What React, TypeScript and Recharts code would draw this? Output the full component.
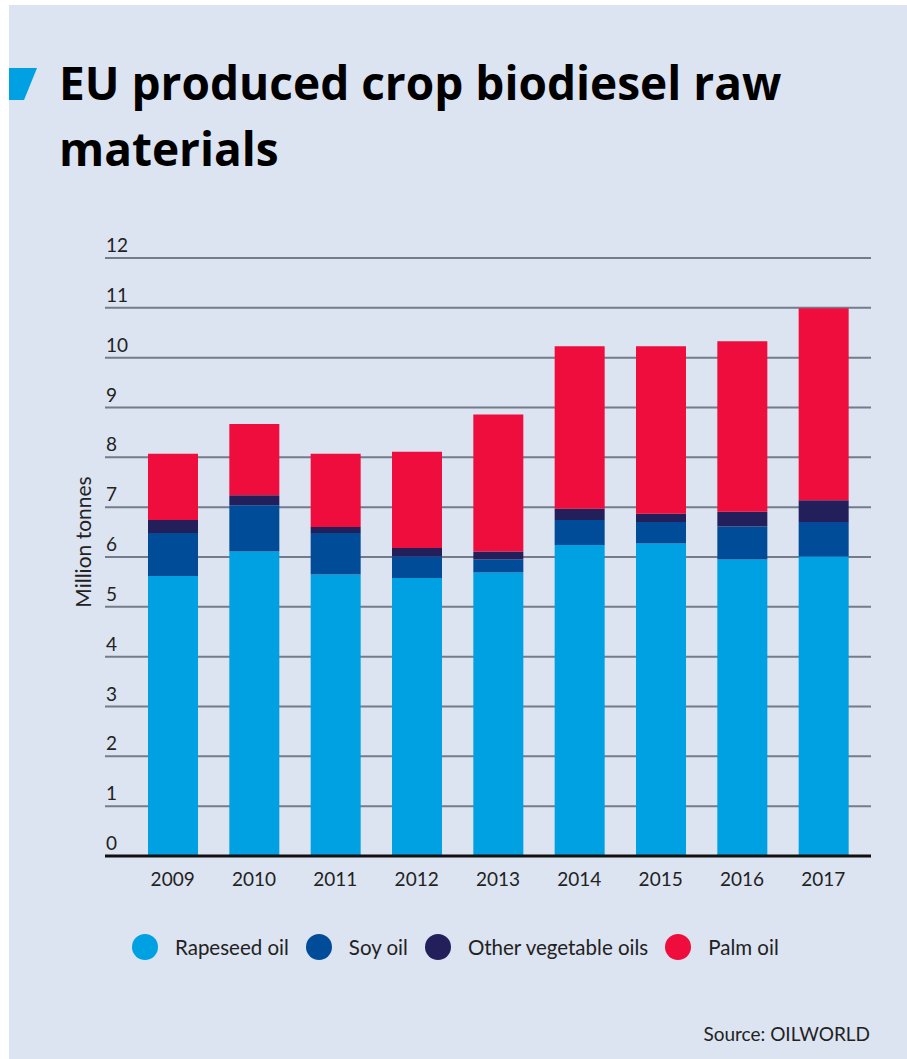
import { BarChart, Bar, XAxis, YAxis, CartesianGrid, Legend } from "recharts";

const years = ["2009", "2010", "2011", "2012", "2013", "2014", "2015", "2016", "2017"];
const rapeseedOil = [5.62, 6.11, 5.65, 5.58, 5.69, 6.24, 6.27, 5.95, 6.01];
const soyOil = [0.86, 0.93, 0.83, 0.43, 0.26, 0.5, 0.43, 0.66, 0.69];
const otherVegetableOils = [0.26, 0.2, 0.12, 0.17, 0.16, 0.23, 0.17, 0.3, 0.44];
const palmOil = [1.33, 1.43, 1.47, 1.93, 2.75, 3.26, 3.36, 3.42, 3.85];
const yTicks = [0, 1, 2, 3, 4, 5, 6, 7, 8, 9, 10, 11, 12];
const seriesNames = ["Rapeseed oil", "Soy oil", "Other vegetable oils", "Palm oil"];

const data = years.map((year, i) => ({
  year,
  rapeseed: rapeseedOil[i],
  soy: soyOil[i],
  other: otherVegetableOils[i],
  palm: palmOil[i],
}));

const FONT = "Lato, 'Noto Sans', sans-serif";
const TEXT = "#222";
const BG = "#dce3f1";
const PLOT_LEFT = 96;

function YTick(props: any) {
  const { y, payload } = props;
  return (
    <text
      x={PLOT_LEFT + 1}
      y={y - 13.5}
      textAnchor="start"
      dominantBaseline="central"
      fontFamily={FONT}
      fontSize={19}
      fill={TEXT}
    >
      {payload.value}
    </text>
  );
}

function XTick(props: any) {
  const { x, y, payload } = props;
  return (
    <text
      x={x}
      y={y + 14}
      textAnchor="middle"
      dominantBaseline="central"
      fontFamily={FONT}
      fontSize={19}
      fill={TEXT}
    >
      {payload.value}
    </text>
  );
}

function LegendContent({ payload }: any) {
  const items = [...(payload || [])].sort(
    (a: any, b: any) => seriesNames.indexOf(a.value) - seriesNames.indexOf(b.value)
  );
  return (
    <div
      style={{
        display: "flex",
        alignItems: "center",
        fontFamily: FONT,
        fontSize: 20.5,
        color: TEXT,
        whiteSpace: "nowrap",
      }}
    >
      {items.map((p: any) => (
        <div key={p.value} style={{ display: "flex", alignItems: "center", marginRight: 17 }}>
          <span
            style={{
              display: "inline-block",
              width: 26,
              height: 26,
              borderRadius: "50%",
              background: p.color,
              marginRight: 17,
            }}
          />
          <span>{p.value}</span>
        </div>
      ))}
    </div>
  );
}

export default function App() {
  return (
    <div
      style={{
        position: "absolute",
        left: 9,
        top: 5,
        width: 898,
        height: 1054,
        background: BG,
        overflow: "hidden",
      }}
    >
      <svg width={30} height={34} style={{ position: "absolute", left: 0, top: 63 }}>
        <polygon points="0,0 28,0 15,32 0,32" fill="#00a1e2" />
      </svg>
      <div
        style={{
          position: "absolute",
          left: 50,
          top: 44,
          fontFamily: "'Open Sans', Lato, sans-serif",
          fontWeight: 700,
          fontSize: 46,
          lineHeight: "66px",
          color: "#000",
          whiteSpace: "nowrap",
        }}
      >
        EU produced crop biodiesel raw
        <br />
        materials
      </div>

      <BarChart
        width={898}
        height={1054}
        data={data}
        margin={{ top: 253, right: 36, bottom: 173, left: 36 }}
      >
        <CartesianGrid vertical={false} stroke="#747b8b" strokeWidth={2} />
        <XAxis
          dataKey="year"
          height={30}
          padding={{ left: 27, right: 7 }}
          axisLine={{ stroke: "#111", strokeWidth: 3 }}
          tickLine={false}
          tick={<XTick />}
          interval={0}
        />
        <YAxis
          width={60}
          domain={[0, 12]}
          ticks={yTicks}
          axisLine={false}
          tickLine={false}
          tick={<YTick />}
          interval={0}
        />
        <Legend
          layout="horizontal"
          verticalAlign="middle"
          align="center"
          content={<LegendContent />}
          wrapperStyle={{ left: 123, top: 929, width: "auto" }}
        />
        <Bar dataKey="rapeseed" name="Rapeseed oil" stackId="a" fill="#00a1e2" barSize={50} isAnimationActive={false} />
        <Bar dataKey="soy" name="Soy oil" stackId="a" fill="#004c99" barSize={50} isAnimationActive={false} />
        <Bar dataKey="other" name="Other vegetable oils" stackId="a" fill="#231f5b" barSize={50} isAnimationActive={false} />
        <Bar dataKey="palm" name="Palm oil" stackId="a" fill="#ee0d3c" barSize={50} isAnimationActive={false} />
      </BarChart>

      <div
        style={{
          position: "absolute",
          left: 73,
          top: 537,
          transform: "translate(-50%, -50%) rotate(-90deg)",
          fontFamily: FONT,
          fontSize: 21,
          color: TEXT,
          whiteSpace: "nowrap",
        }}
      >
        Million tonnes
      </div>

      <div
        style={{
          position: "absolute",
          right: 898 - 861,
          top: 1028,
          transform: "translateY(-50%)",
          fontFamily: FONT,
          fontSize: 19,
          color: TEXT,
          whiteSpace: "nowrap",
        }}
      >
        Source: OILWORLD
      </div>
    </div>
  );
}
